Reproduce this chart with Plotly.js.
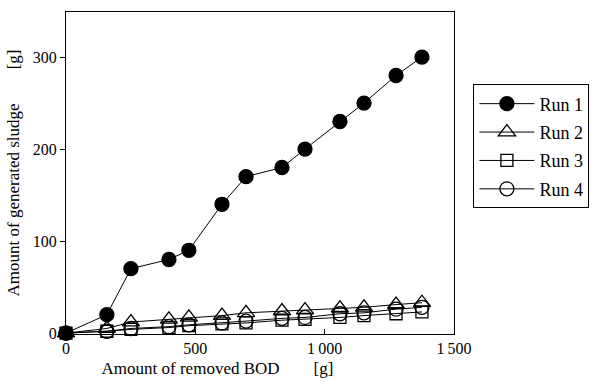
<!DOCTYPE html>
<html>
<head>
<meta charset="utf-8">
<script src="https://cdn.plot.ly/plotly-3.0.1.min.js"></script>
<style>
html,body{margin:0;padding:0;background:#fff;}
#chart{width:611px;height:387px;}
</style>
</head>
<body>
<div id="chart"></div>
<script>
const removedBOD = [0, 158, 251, 398, 475, 603, 696, 835, 924, 1059, 1152, 1276, 1376];
const run1 = [0, 20, 70, 80, 90, 140, 170, 180, 200, 230, 250, 280, 300];
const run2 = [0, 5, 12, 15, 17, 19, 22, 24, 25, 27, 28, 31, 33];
const run3 = [0, 2, 4, 6, 8, 10, 11, 14, 15, 17, 19, 21, 23];
const run4 = [0, 2, 5, 7, 9, 11, 13, 16, 17, 21, 22, 26, 28];
const seriesNames = ["Run 1", "Run 2", "Run 3", "Run 4"];
const xTickVals = [0, 500, 1000, 1500];
const xTickText = ["0", "500", "1\u2009000", "1\u2009500"];
const yTickVals = [0, 100, 200, 300];

const FAM = "Liberation Serif";
const symbols = ["circle", "triangle-up-open", "square-open", "circle-open"];
const sizes = [14, 15, 12, 14];
const data = [run1, run2, run3, run4].map((ys, i) => ({
  x: removedBOD, y: ys, name: seriesNames[i], legendgroup: "g" + i, type: "scatter", mode: "lines+markers",
  cliponaxis: false,
  line: {color: "black", width: 1},
  marker: {symbol: symbols[i], size: sizes[i], color: "black", line: {color: "black", width: 1.3}}
}));
const layout = {
  width: 611, height: 387,
  margin: {l: 66, r: 157, t: 12, b: 53},
  paper_bgcolor: "white", plot_bgcolor: "white",
  showlegend: true,
  legend: {x: 1.05, y: 0.775, xanchor: "left", yanchor: "top", bordercolor: "black", borderwidth: 1,
           font: {family: FAM, size: 18}, tracegroupgap: 2, itemwidth: 55},
  xaxis: {range: [0, 1500], tickvals: xTickVals, ticktext: xTickText, ticks: "inside", ticklen: 5,
          showline: true, linecolor: "black", linewidth: 1, mirror: true, showgrid: false, zeroline: false,
          tickcolor: "black", tickfont: {family: FAM, size: 16},
          title: {text: "Amount of removed BOD\u2003\u2003[g]\u2003\u2003\u2003\u2003\u2003\u200b", font: {family: FAM, size: 17}, standoff: 5}},
  yaxis: {range: [-1, 349], tickvals: yTickVals, ticks: "outside", ticklen: 5,
          showline: true, linecolor: "black", linewidth: 1, mirror: true, showgrid: false, zeroline: false,
          tickcolor: "black", tickfont: {family: FAM, size: 16},
          title: {text: "Amount of generated sludge\u2003\u2003[g]", font: {family: FAM, size: 17}, standoff: 8}},
  template: {layout: {font: {family: FAM, color: "black"}}}
};
Plotly.newPlot("chart", data, layout, {displayModeBar: false, staticPlot: true});
</script>
</body>
</html>
